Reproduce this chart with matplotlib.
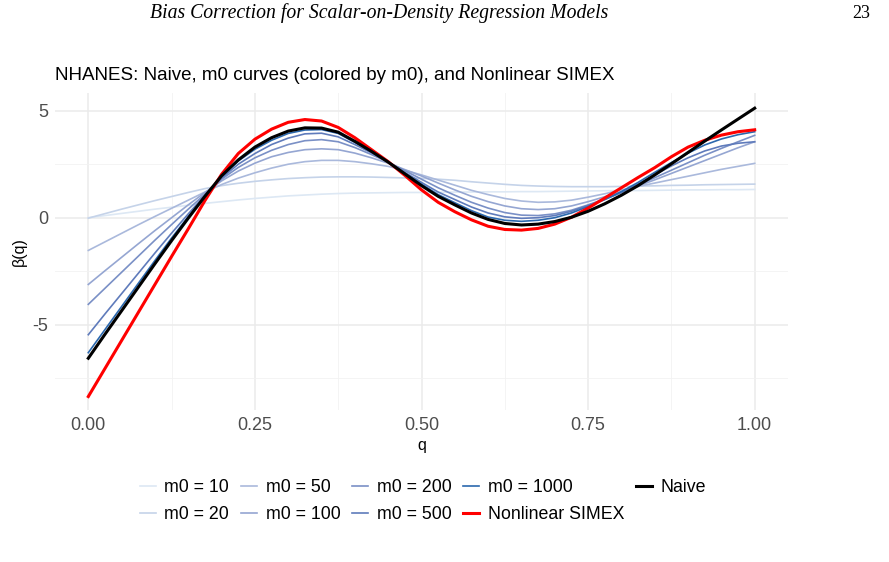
import numpy as np
from matplotlib import pyplot as plt

# values (every 0.025 in q)
q = [0.000, 0.025, 0.050, 0.075, 0.100, 0.125, 0.150, 0.175, 0.200, 0.225,
     0.250, 0.275, 0.300, 0.325, 0.350, 0.375, 0.400, 0.425, 0.450, 0.475,
     0.500, 0.525, 0.550, 0.575, 0.600, 0.625, 0.650, 0.675, 0.700, 0.725,
     0.750, 0.775, 0.800, 0.825, 0.850, 0.875, 0.900, 0.925, 0.950, 0.975, 1.000]

naive = [-6.57, -5.45, -4.35, -3.25, -2.15, -1.07, -0.02, 1.00, 1.96, 2.70,
         3.30, 3.74, 4.05, 4.20, 4.19, 4.00, 3.57, 3.10, 2.60, 2.05,
         1.50, 1.00, 0.60, 0.22, -0.08, -0.27, -0.34, -0.30, -0.18, 0.02,
         0.30, 0.65, 1.05, 1.50, 2.00, 2.52, 3.05, 3.58, 4.10, 4.61, 5.12]
simex = [-8.36, -7.05, -5.74, -4.43, -3.12, -1.81, -0.52, 0.80, 2.03, 3.00,
         3.67, 4.14, 4.46, 4.59, 4.52, 4.22, 3.74, 3.18, 2.62, 1.98,
         1.30, 0.72, 0.28, -0.10, -0.40, -0.55, -0.58, -0.50, -0.30, 0.02,
         0.45, 0.92, 1.40, 1.88, 2.34, 2.85, 3.30, 3.62, 3.86, 4.02, 4.11]

m0_10 = [0.00, 0.10, 0.20, 0.30, 0.40, 0.49, 0.58, 0.67, 0.75, 0.83,
         0.90, 0.96, 1.02, 1.06, 1.10, 1.13, 1.15, 1.16, 1.17, 1.18,
         1.18, 1.19, 1.20, 1.20, 1.21, 1.21, 1.22, 1.22, 1.23, 1.24,
         1.25, 1.26, 1.27, 1.27, 1.28, 1.29, 1.30, 1.30, 1.31, 1.31, 1.32]
m0_20 = [-0.02, 0.19, 0.40, 0.60, 0.80, 0.99, 1.18, 1.36, 1.50, 1.61,
         1.70, 1.77, 1.83, 1.87, 1.90, 1.91, 1.91, 1.90, 1.88, 1.86,
         1.84, 1.80, 1.75, 1.68, 1.62, 1.56, 1.51, 1.48, 1.46, 1.45,
         1.45, 1.45, 1.46, 1.48, 1.49, 1.51, 1.52, 1.54, 1.55, 1.56, 1.57]
m0_50 = [-1.53, -1.13, -0.73, -0.33, 0.06, 0.44, 0.82, 1.20, 1.55, 1.85,
         2.10, 2.32, 2.50, 2.62, 2.68, 2.68, 2.62, 2.52, 2.40, 2.22,
         2.00, 1.76, 1.52, 1.28, 1.08, 0.90, 0.78, 0.72, 0.74, 0.82,
         0.96, 1.12, 1.30, 1.46, 1.62, 1.78, 1.94, 2.10, 2.26, 2.40, 2.54]
m0_100 = [-3.12, -2.48, -1.85, -1.22, -0.60, 0.00, 0.60, 1.18, 1.72, 2.18,
          2.55, 2.85, 3.05, 3.18, 3.22, 3.18, 3.02, 2.80, 2.55, 2.25,
          1.95, 1.62, 1.30, 1.00, 0.75, 0.55, 0.42, 0.38, 0.42, 0.55,
          0.75, 0.98, 1.22, 1.48, 1.77, 2.07, 2.37, 2.67, 2.97, 3.27, 3.55]
m0_200 = [-4.05, -3.30, -2.55, -1.80, -1.05, -0.32, 0.40, 1.10, 1.80, 2.35,
          2.80, 3.15, 3.42, 3.60, 3.65, 3.55, 3.28, 2.95, 2.60, 2.20,
          1.80, 1.40, 1.05, 0.72, 0.45, 0.24, 0.12, 0.10, 0.18, 0.35,
          0.60, 0.88, 1.18, 1.52, 1.87, 2.22, 2.57, 2.92, 3.24, 3.55, 3.85]
m0_500 = [-5.47, -4.50, -3.55, -2.60, -1.65, -0.72, 0.18, 1.05, 1.86, 2.50,
          3.00, 3.42, 3.72, 3.92, 3.95, 3.78, 3.42, 3.03, 2.60, 2.12,
          1.65, 1.20, 0.85, 0.50, 0.22, 0.04, -0.03, 0.00, 0.10, 0.30,
          0.57, 0.85, 1.18, 1.58, 2.00, 2.42, 2.80, 3.12, 3.35, 3.48, 3.55]
m0_1000 = [-6.31, -5.23, -4.15, -3.07, -2.00, -0.95, 0.05, 1.02, 1.92, 2.65,
           3.20, 3.62, 3.94, 4.10, 4.12, 3.94, 3.52, 3.08, 2.60, 2.08,
           1.57, 1.08, 0.70, 0.33, 0.03, -0.12, -0.17, -0.12, 0.00, 0.22,
           0.52, 0.85, 1.22, 1.65, 2.12, 2.58, 3.02, 3.40, 3.68, 3.88, 4.02]

m0_labels = ["m0 = 10", "m0 = 20", "m0 = 50", "m0 = 100", "m0 = 200", "m0 = 500", "m0 = 1000"]
m0_curves = [m0_10, m0_20, m0_50, m0_100, m0_200, m0_500, m0_1000]
m0_colors = ["#dde8f4", "#c5d3e9", "#aab9dc", "#95a6d2", "#7a90c6", "#5f7bbb", "#2b68ae"]

plt.rcParams["font.family"] = ["Liberation Sans", "DejaVu Sans"]

fig = plt.figure(figsize=[8.89, 5.62], dpi=100)
ax = fig.add_axes([55/889, 1 - 410/562, 733/889, 317/562])

for lab, ys, col in zip(m0_labels, m0_curves, m0_colors):
    ax.plot(q, ys, color=col, lw=1.2, label=lab)
ax.plot(q, naive, color="black", lw=2.2, label="Naive", zorder=5)
ax.plot(q, simex, color="red", lw=2.2, label="Nonlinear SIMEX", zorder=4)

# ggplot minimal look
ax.set_xlim(-0.05, 1.05)
ax.set_ylim(-8.99, 5.83)
ax.set_xticks([0, 0.25, 0.5, 0.75, 1.0])
ax.set_xticklabels(["0.00", "0.25", "0.50", "0.75", "1.00"])
ax.set_yticks([-5, 0, 5])
ax.set_yticklabels(["-5", "0", "5"])
ax.set_xticks([0.125, 0.375, 0.625, 0.875], minor=True)
ax.set_yticks([-7.5, -2.5, 2.5], minor=True)
ax.grid(True, which="major", color="#ebebeb", lw=1.1)
ax.grid(True, which="minor", color="#f2f2f2", lw=0.6)
ax.set_axisbelow(True)
for s in ax.spines.values():
    s.set_visible(False)
ax.tick_params(which="both", length=0, labelsize=13, labelcolor="#4d4d4d", pad=5)
ax.set_xlabel("q", fontsize=11.5, labelpad=3)
ax.set_ylabel("β(q)", fontsize=11.5, labelpad=4)
ax.set_title("NHANES: Naive, m0 curves (colored by m0), and Nonlinear SIMEX",
             loc="left", fontsize=13.5, x=0.0, y=1.0, pad=9)

h, l = ax.get_legend_handles_labels()
order = [0, 1, 2, 3, 4, 5, 6, 8, 7]
fig.legend([h[i] for i in order], [l[i] for i in order], ncol=5, frameon=False,
           loc="center", bbox_to_anchor=(423/889, 1 - 501/562), fontsize=12.8,
           handlelength=0.9, handletextpad=0.5, columnspacing=0.65, labelspacing=0.55)

# page header from the paper
fig.text(379/889, 1 - 13/562, "Bias Correction for Scalar-on-Density Regression Models",
         ha="center", va="center", fontsize=14.2, style="italic", family="Liberation Serif")
fig.text(870/889, 1 - 13/562, "23", ha="right", va="center", fontsize=13,
         family="Liberation Serif")

plt.savefig("out.png", dpi=100)
